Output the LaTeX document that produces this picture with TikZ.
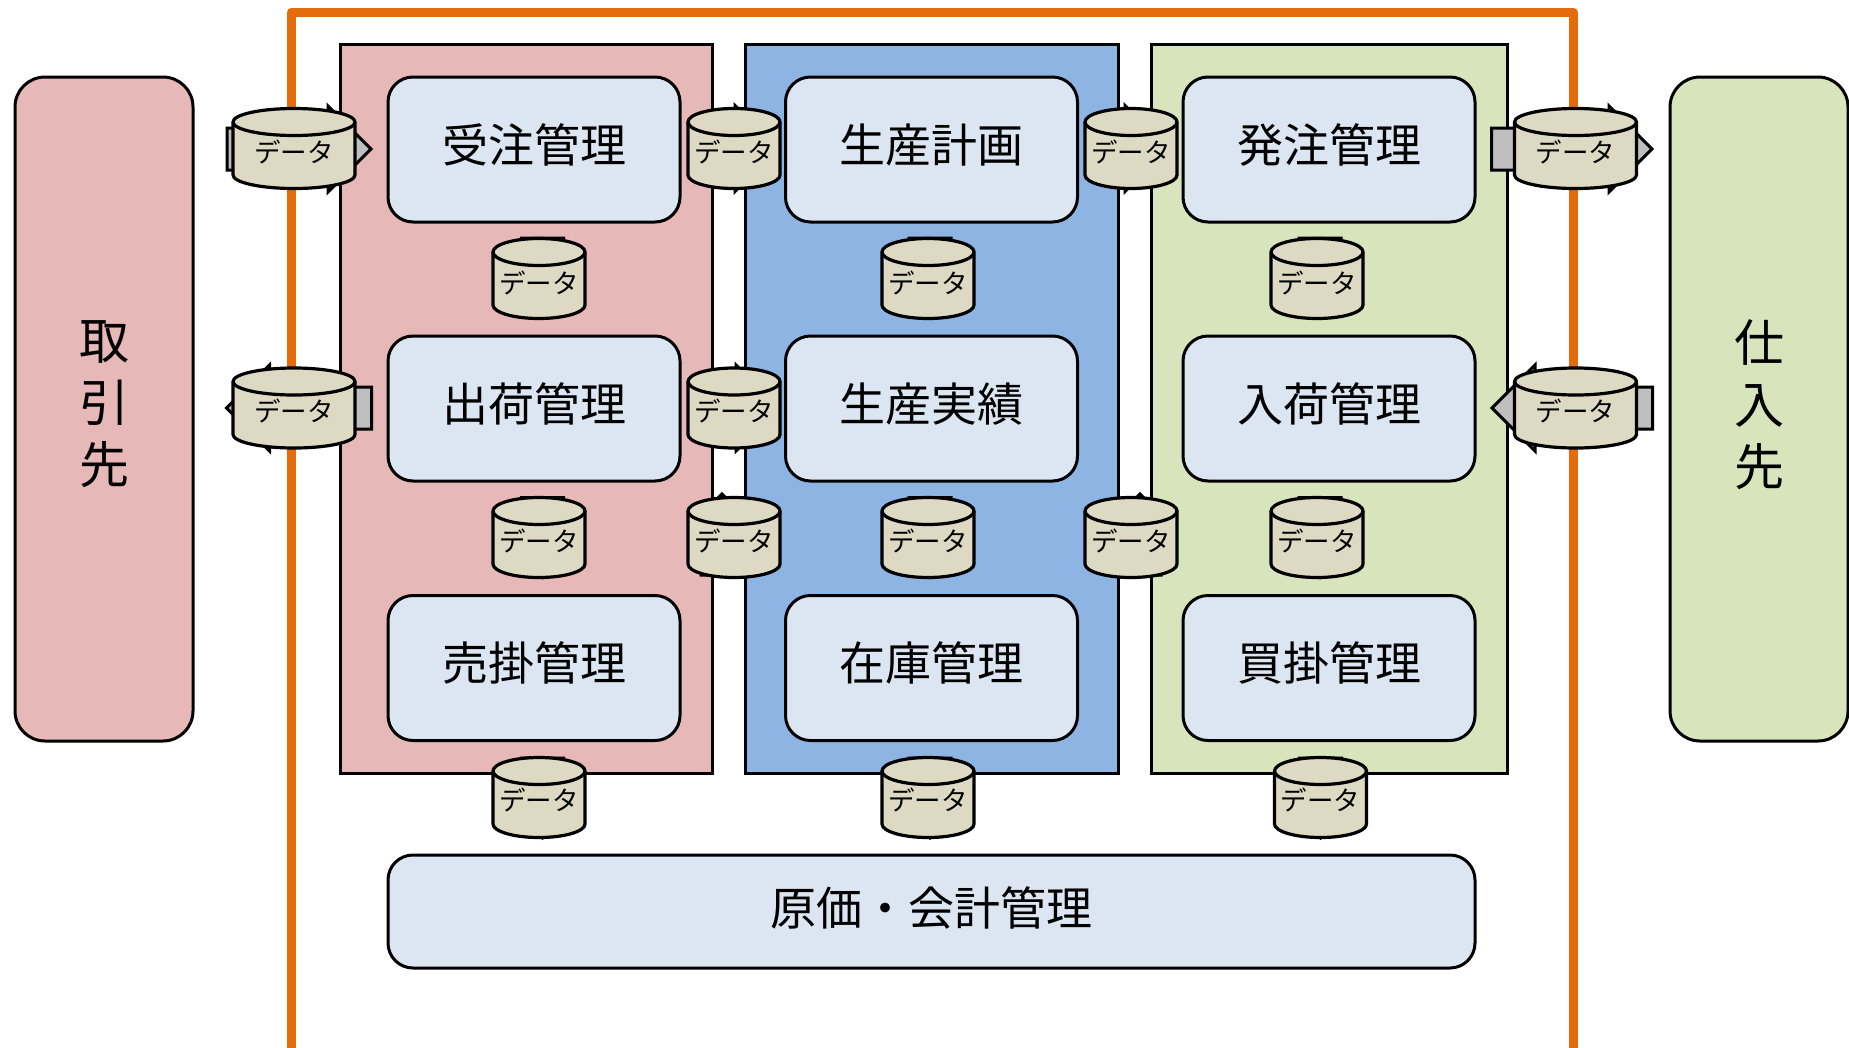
\documentclass[tikz,border=0pt]{standalone}
\usepackage{fontspec}
\setmainfont{Noto Sans CJK JP}
\definecolor{cred}{HTML}{E6B8B7}
\definecolor{cblue}{HTML}{8EB4E3}
\definecolor{cgreen}{HTML}{D7E4BC}
\definecolor{cbox}{HTML}{DCE6F2}
\definecolor{ccyl}{HTML}{DDD9C3}
\definecolor{cgray}{HTML}{BFBFBF}
\definecolor{corange}{HTML}{E46C0A}
\tikzset{
  panel/.style={draw=black,line width=3pt,rectangle,minimum width=#1,minimum height=729pt,inner sep=0pt},
  procbox/.style={draw=black,fill=cbox,line width=3pt,rectangle,rounded corners=25pt,minimum width=292pt,minimum height=145pt,inner sep=0pt,font=\fontsize{46}{50}\selectfont},
  sidebox/.style={draw=black,line width=3pt,rectangle,rounded corners=30pt,minimum width=178pt,minimum height=664pt,inner sep=0pt,align=center,font=\fontsize{50}{62}\selectfont},
  blockarrow/.style={draw=black,fill=cgray,line width=3pt,miter limit=10},
  cylbody/.style={draw=black,fill=ccyl,line width=3.2pt,line join=round},
  cyltext/.style={inner sep=0pt,font=\fontsize{26.5}{30}\selectfont},
}
\newcommand{\up}[1]{\raisebox{4.7pt}[\height][\depth]{#1}}
% tail x, tail y, direction, length, head half width
\newcommand{\blockarr}[5]{%
  \draw[blockarrow,shift={(#1,-#2)},rotate=#3] (0,-21) -- (#4-#5,-21) -- (#4-#5,-#5) -- (#4,0) -- (#4-#5,#5) -- (#4-#5,21) -- (0,21) -- cycle;
}
% name, cx, cy, half width, text offset below the centre
\newcommand{\datacyl}[5]{%
  \draw[cylbody] (#2-#4,-#3+26.5) arc[start angle=180,end angle=0,x radius=#4,y radius=13.5]
     -- (#2+#4,-#3-26.5) arc[start angle=360,end angle=180,x radius=#4,y radius=13.5] -- cycle;
  \draw[cylbody,fill=none] (#2-#4,-#3+26.5) arc[start angle=180,end angle=360,x radius=#4,y radius=13.5];
  \node[cyltext] (#1) at (#2,-#3-#5) {データ};
}
\begin{document}
\begin{tikzpicture}[x=1pt,y=1pt]
\useasboundingbox (0,0) rectangle (1849,-1047);
% outer frame
\draw[corange,line width=9pt,line join=round] (291,-1070) -- (291,-12) -- (1573,-12) -- (1573,-1070);
% panels
\node[panel=372pt,fill=cred] (redpanel) at (526,-408.5) {};
\node[panel=373pt,fill=cblue] (bluepanel) at (931.5,-408.5) {};
\node[panel=356pt,fill=cgreen] (greenpanel) at (1329,-408.5) {};
% side boxes
\node[sidebox,fill=cred] (customer) at (104,-409) {\up{取}\\\up{引}\\\up{先}};
\node[sidebox,fill=cgreen] (supplier) at (1759,-409) {\up{仕}\\\up{入}\\\up{先}};
% process boxes
\node[procbox] (juchu) at (534,-149.5) {\up{受注管理}};
\node[procbox] (shukka) at (534,-408.5) {\up{出荷管理}};
\node[procbox] (urikake) at (534,-668) {\up{売掛管理}};
\node[procbox] (keikaku) at (931.5,-149.5) {\up{生産計画}};
\node[procbox] (jisseki) at (931.5,-408.5) {\up{生産実績}};
\node[procbox] (zaiko) at (931.5,-668) {\up{在庫管理}};
\node[procbox] (hatchu) at (1329,-149.5) {\up{発注管理}};
\node[procbox] (nyuka) at (1329,-408.5) {\up{入荷管理}};
\node[procbox] (kaikake) at (1329,-668) {\up{買掛管理}};
\node[procbox,minimum width=1087pt,minimum height=113pt] (genka) at (931.5,-911.5) {\raisebox{3.5pt}[\height][\depth]{原価・会計管理}};
% block arrows (mostly hidden by the cylinders)
\blockarr{227}{149}{0}{144}{43}
\blockarr{371.5}{408}{180}{145}{43}
\blockarr{1491.5}{149}{0}{160.5}{43}
\blockarr{1652.5}{408}{180}{160.5}{43}
\blockarr{692}{148.5}{0}{86}{43}
\blockarr{692}{408}{0}{87}{43}
\blockarr{1090}{148.5}{0}{78}{43}
\blockarr{722}{575}{90}{81}{29}
\blockarr{1140}{575}{90}{81}{29}
\foreach \cx/\ty in {542.5/238,542.5/497.5,542.5/758,930/238,930/497.5,930/758,1320/238,1320/497.5,1320.5/758}{
  \blockarr{\cx}{\ty}{-90}{80}{40}
}
% data stores
\datacyl{d1}{294}{148.5}{61}{3}
\datacyl{d2}{294}{408}{61}{3}
\datacyl{d3}{1575.5}{148.5}{61}{3}
\datacyl{d4}{1575.5}{408}{61}{3}
\datacyl{d5}{734}{148.5}{46}{3}
\datacyl{d6}{734}{408}{46}{3}
\datacyl{d7}{734}{537.5}{46}{3}
\datacyl{d8}{1131}{148.5}{46}{3}
\datacyl{d9}{1131}{537.5}{46}{3}
\datacyl{d10}{539}{278.5}{46}{4.5}
\datacyl{d11}{539}{537.5}{46}{3}
\datacyl{d12}{539}{797.5}{46}{2}
\datacyl{d13}{928}{278.5}{46}{4.5}
\datacyl{d14}{928}{537.5}{46}{3}
\datacyl{d15}{928}{797.5}{46}{2}
\datacyl{d16}{1317}{278.5}{46}{4.5}
\datacyl{d17}{1317}{537.5}{46}{3}
\datacyl{d18}{1320.5}{797.5}{46}{2}
\end{tikzpicture}
\end{document}
